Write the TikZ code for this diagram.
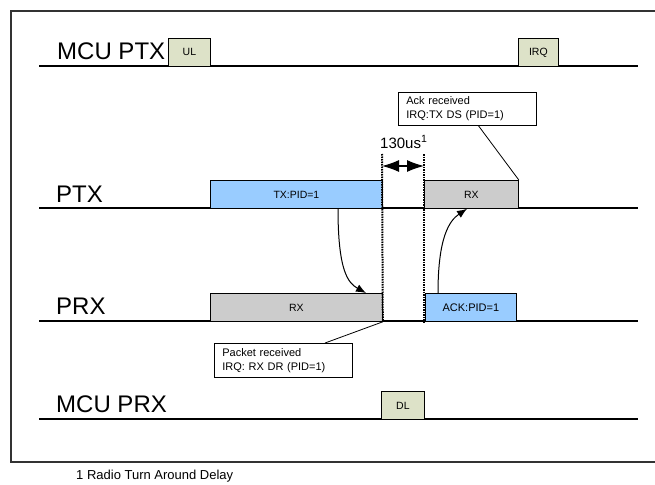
\documentclass[tikz,border=0pt]{standalone}
\usepackage{fontspec}
\setmainfont{Liberation Sans}
\usetikzlibrary{arrows.meta,calc}
\definecolor{txblue}{HTML}{99CCFF}
\definecolor{rxgray}{HTML}{CCCCCC}
\definecolor{mcuolive}{HTML}{DDE2C8}
\definecolor{framegray}{HTML}{333333}
\begin{document}
\begin{tikzpicture}[x=1pt,y=-1pt,
  lane/.style={line width=1.3pt},
  lanelabel/.style={anchor=base west, inner sep=0pt, font=\fontsize{24}{24}\selectfont},
  slot/.style={draw, line width=0.8pt, anchor=north west, inner sep=0pt, font=\fontsize{10.5}{12}\selectfont},
  txslot/.style={slot, fill=txblue},
  rxslot/.style={slot, fill=rxgray},
  mcuslot/.style={slot, fill=mcuolive},
  callout/.style={draw, line width=0.8pt, anchor=north west, inner xsep=8pt, inner ysep=0pt,
    align=left, font=\fontsize{11}{14}\selectfont},
  dotline/.style={line width=2pt, dash pattern=on 1.5pt off 1pt},
  flow/.style={line width=1pt, -{Latex[length=10pt,width=8pt]}},
  span/.style={line width=1.2pt, {Latex[length=17pt,width=12pt]}-{Latex[length=17pt,width=12pt]}},
  leader/.style={line width=0.8pt}
]
\useasboundingbox (0,0) rectangle (655,484);
% frame
\coordinate (fTR) at (662,11);
\coordinate (fTL) at (11,11);
\coordinate (fBL) at (11,462);
\coordinate (fBR) at (662,462);
\draw[line width=1.2pt, framegray] (fTR) -- (fTL) -- (fBL) -- (fBR);

% lanes
\coordinate (l1a) at (39,66);  \coordinate (l1b) at (638,66);
\coordinate (l2a) at (39,208); \coordinate (l2b) at (638,208);
\coordinate (l3a) at (39,321); \coordinate (l3b) at (638,321);
\coordinate (l4a) at (39,419); \coordinate (l4b) at (638,419);
\draw[lane] (l1a) -- (l1b);
\draw[lane] (l2a) -- (l2b);
\draw[lane] (l3a) -- (l3b);
\draw[lane] (l4a) -- (l4b);

\node[lanelabel] (mcuptx) at (57,60) {MCU PTX};
\node[lanelabel] (ptx) at (56,202) {PTX};
\node[lanelabel] (prx) at (56,314) {PRX};
\node[lanelabel] (mcuprx) at (56,412) {MCU PRX};

% slots
\node[mcuslot, minimum width=42pt, minimum height=28pt] (ul) at (168,38) {UL};
\node[mcuslot, minimum width=40pt, minimum height=28pt] (irq) at (518,38) {IRQ};
\node[txslot, minimum width=172pt, minimum height=28pt] (tx) at (210,180) {TX:PID=1};
\node[rxslot, minimum width=94pt, minimum height=28pt] (ptxrx) at (424,180) {RX};
\node[rxslot, minimum width=172pt, minimum height=28pt] (prxrx) at (210,293) {RX};
\node[txslot, minimum width=91pt, minimum height=28pt, font=\fontsize{11}{12}\selectfont] (ack) at (425,293) {ACK:PID=1};
\node[mcuslot, minimum width=43pt, minimum height=28pt] (dl) at (381,391) {DL};

% turnaround markers
\coordinate (t1) at (382,154);
\coordinate (t2) at (424,154);
\draw[dotline] (t1) -- (prxrx.south east);
\draw[dotline] (t2) -- (t2 |- prxrx.south);
\coordinate (s1) at (382,166);
\coordinate (s2) at (424,166);
\draw[span] (s1) -- (s2);
\node[anchor=base west, inner sep=0pt, font=\fontsize{15}{15}\selectfont] (tad) at (380,148) {130us\textsuperscript{1}};

% flows
\draw[flow] ($(tx.south west)+(128,0)$) .. controls +(0,62) and +(-18,-10) .. ($(prxrx.north west)+(156,0)$);
\draw[flow] ($(ack.north west)+(13,0)$) .. controls +(0,-55) and +(-18,12) .. ($(ptxrx.south west)+(43,0)$);

% callouts
\node[callout, text width=122pt, minimum height=33pt] (ackbox) at (398,92) {Ack received\\IRQ:TX DS (PID=1)};
\draw[leader] ($(ackbox.south west)!0.58!(ackbox.south east)$) -- (ptxrx.north east);
\node[callout, text width=122pt, minimum height=34pt] (pktbox) at (214,343) {Packet received\\IRQ: RX DR (PID=1)};
\draw[leader] ($(pktbox.north west)!0.80!(pktbox.north east)$) -- (prxrx.south east);

% footnote
\node[anchor=base west, inner sep=0pt, font=\fontsize{13}{13}\selectfont] (foot) at (76,479) {1 Radio Turn Around Delay};
\end{tikzpicture}
\end{document}
